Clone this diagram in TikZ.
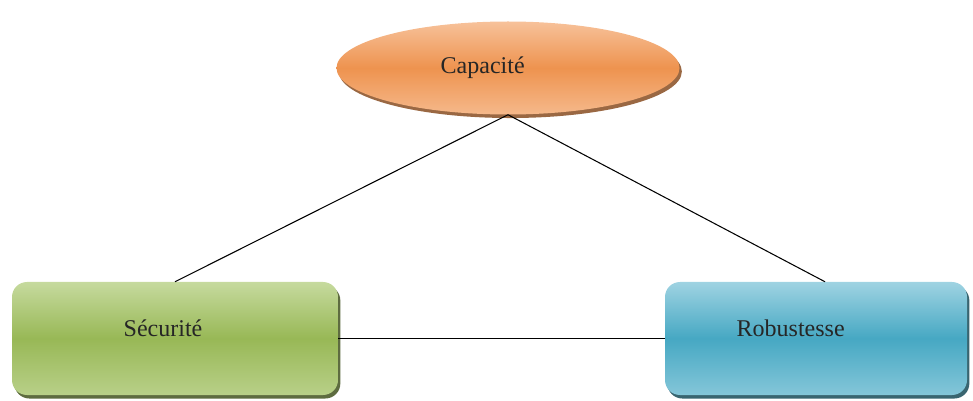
\documentclass[tikz,border=0pt]{standalone}
\usepackage{fontspec}
\setmainfont{Liberation Serif}
\usetikzlibrary{shapes.geometric,shadows}

\definecolor{orangetop}{HTML}{F7C29A}
\definecolor{orangemid}{HTML}{EE934F}
\definecolor{greentop}{HTML}{C6DA9E}
\definecolor{greenmid}{HTML}{98B856}
\definecolor{bluetop}{HTML}{9FD3E2}
\definecolor{bluemid}{HTML}{46A8C3}

\begin{document}
\begin{tikzpicture}[x=0.03cm, y=-0.03cm,
    every label/.style={font=\fontsize{20.5}{24}\selectfont, text=black!85},
    pole/.style={draw=none, minimum width=#1, minimum height=113*0.03cm,
      rounded corners=0.45cm},
    capa/.style={ellipse, minimum width=343*0.03cm, minimum height=93*0.03cm,
      top color=orangetop, bottom color=orangetop!80!orangemid, middle color=orangemid,
      drop shadow={shadow xshift=2pt, shadow yshift=-3pt, fill=orangemid!60!black, opacity=0.9}},
    secu/.style={pole=326*0.03cm, top color=greentop, bottom color=greentop!70!greenmid,
      middle color=greenmid,
      drop shadow={shadow xshift=2pt, shadow yshift=-3pt, fill=greenmid!50!black, opacity=0.9}},
    robu/.style={pole=302*0.03cm, top color=bluetop, bottom color=bluetop!70!bluemid,
      middle color=bluemid,
      drop shadow={shadow xshift=2pt, shadow yshift=-3pt, fill=bluemid!50!black, opacity=0.9}},
    link/.style={draw=black, line width=0.9pt}]
  \useasboundingbox (0,0) rectangle (973,401);

  \node[capa, label={[xshift=-0.76cm]center:Capacité}] (cap) at (508,68) {};
  \node[secu, label={[xshift=-0.36cm, yshift=0.3cm]center:Sécurité}] (sec) at (175,338.5) {};
  \node[robu, label={[xshift=-0.76cm, yshift=0.3cm]center:Robustesse}] (rob) at (816,338.5) {};

  \draw[link] (sec.north) -- (cap.south) -- ([xshift=0.27cm]rob.north);
  \draw[link] (sec.east) -- (rob.west);
\end{tikzpicture}
\end{document}
